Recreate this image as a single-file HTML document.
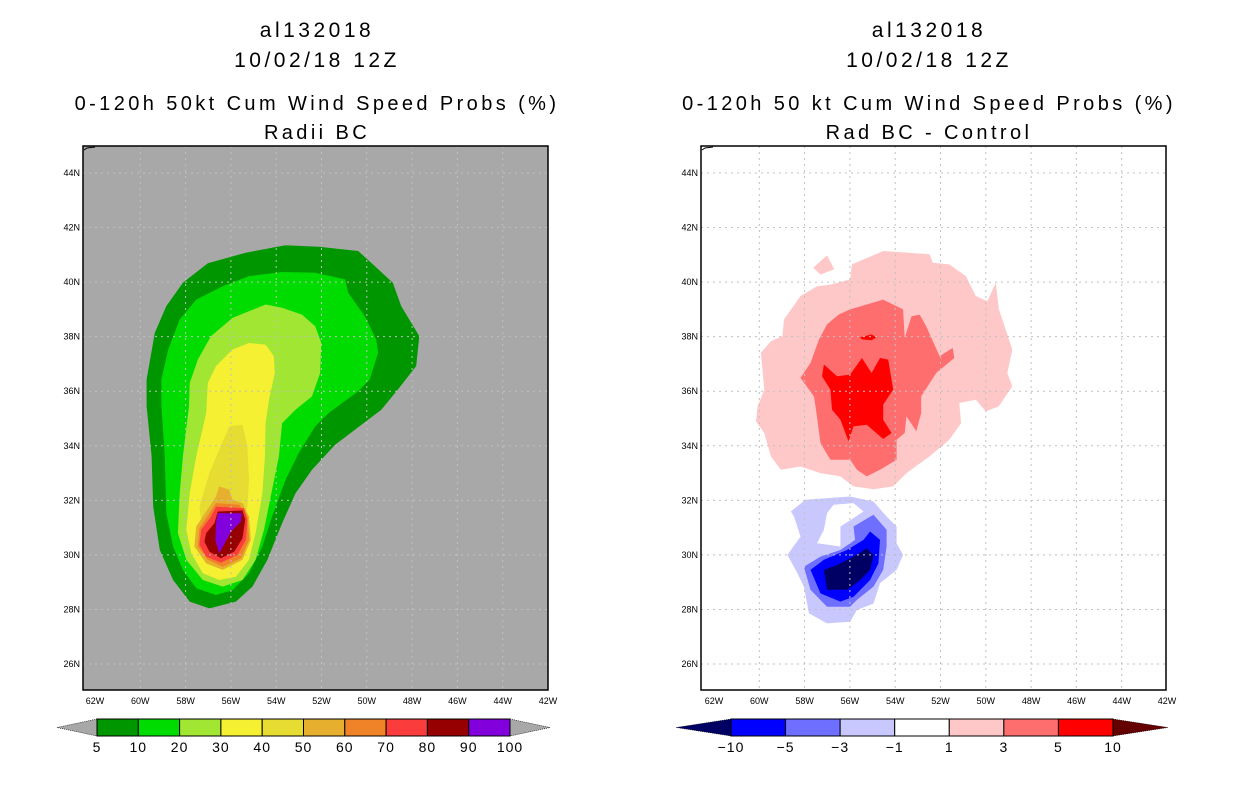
<!DOCTYPE html>
<html><head><meta charset="utf-8"><style>
html,body{margin:0;padding:0;background:#fff;}
svg{display:block;font-family:"Liberation Sans",sans-serif;}
</style></head><body>
<svg id="c" width="1236" height="800" xmlns="http://www.w3.org/2000/svg"></svg>
<script>
// ---- data ----
const lonTicks=[-62,-60,-58,-56,-54,-52,-50,-48,-46,-44,-42];
const latTicks=[26,28,30,32,34,36,38,40,42,44];
const probLevels=[5,10,20,30,40,50,60,70,80,90,100];
const probColors=['#009600','#00dc00','#a0e632','#f5f032','#e6dc32','#e6af2d','#f08228','#fa3c3c','#960000','#8200dc'];
const diffLevels=[-10,-5,-3,-1,1,3,5,10];
const diffColors=['#0000ff','#6e6eff','#c8c8ff','#ffffff','#ffc8c8','#ff6e6e','#ff0000'];
// contour polygons (lon, lat) for left panel, index = probColors index
const prob5=[[-53.59,41.35],[-52.13,41.30],[-50.38,41.14],[-49.65,40.59],[-48.85,39.98],[-48.48,39.12],[-47.68,38.02],[-47.82,36.92],[-48.63,36.06],[-49.36,35.32],[-51.40,34.04],[-52.42,33.12],[-53.15,32.26],[-53.74,31.16],[-54.39,29.82],[-55.05,28.84],[-55.78,28.29],[-56.95,28.04],[-57.82,28.29],[-58.55,29.08],[-59.14,30.18],[-59.43,31.77],[-59.50,33.61],[-59.72,35.45],[-59.72,36.43],[-59.36,38.14],[-58.85,39.12],[-58.12,39.98],[-57.02,40.69],[-55.34,41.08]];
const prob10=[[-55.20,40.22],[-53.74,40.37],[-52.28,40.34],[-50.96,40.10],[-50.82,39.61],[-50.09,38.75],[-49.58,37.89],[-49.50,37.41],[-49.87,36.43],[-50.38,36.00],[-51.69,35.20],[-52.28,34.71],[-53.01,33.73],[-53.59,32.75],[-54.18,31.41],[-54.61,30.31],[-55.20,29.33],[-55.93,28.71],[-56.66,28.53],[-57.53,28.78],[-58.12,29.45],[-58.55,30.31],[-58.85,31.53],[-58.92,33.61],[-59.07,35.45],[-59.07,36.43],[-58.77,37.53],[-58.26,38.63],[-57.53,39.36],[-56.36,39.85]];
const prob20=[[-54.47,39.18],[-53.74,39.06],[-52.86,38.81],[-52.28,38.38],[-52.01,37.77],[-52.06,36.67],[-52.42,35.81],[-53.15,35.32],[-53.74,34.83],[-53.88,33.61],[-54.18,32.39],[-54.54,30.92],[-54.91,29.82],[-55.49,29.08],[-56.36,28.84],[-57.24,29.08],[-57.97,29.82],[-58.34,30.80],[-58.26,32.26],[-58.12,33.61],[-57.85,35.45],[-57.82,36.30],[-57.46,37.16],[-56.88,38.02],[-55.93,38.69]];
const prob30=[[-55.20,37.77],[-54.47,37.71],[-54.10,37.28],[-54.06,36.67],[-54.32,35.69],[-54.47,34.83],[-54.50,33.61],[-54.61,32.26],[-54.91,30.80],[-55.20,29.82],[-55.78,29.20],[-56.51,29.08],[-57.24,29.33],[-57.75,30.06],[-57.97,30.92],[-57.82,32.26],[-57.53,33.61],[-57.09,35.20],[-57.02,36.30],[-56.66,36.92],[-55.93,37.53]];
const prob40=[[-56.07,34.71],[-55.49,34.77],[-55.27,33.98],[-55.20,32.75],[-55.27,31.77],[-55.49,30.92],[-56.07,30.31],[-56.66,30.43],[-57.24,30.80],[-57.39,31.77],[-56.95,33.00],[-56.51,33.86]];
const prob50=[[-56.51,32.51],[-56.07,32.39],[-55.93,32.02],[-55.49,31.90],[-55.20,31.41],[-55.12,30.55],[-55.49,29.82],[-56.36,29.45],[-57.09,29.69],[-57.61,30.31],[-57.53,31.04],[-56.95,31.77],[-56.66,32.14]];
const prob60=[[-56.66,31.90],[-55.64,31.84],[-55.27,31.41],[-55.20,30.55],[-55.56,29.88],[-56.36,29.57],[-57.02,29.82],[-57.46,30.31],[-57.39,30.98],[-56.95,31.53]];
const prob70=[[-56.66,31.77],[-55.42,31.71],[-55.27,31.29],[-55.34,30.55],[-55.71,30.00],[-56.44,29.72],[-57.09,29.94],[-57.39,30.37],[-57.31,30.92],[-56.88,31.41]];
const prob80=[[-56.58,31.59],[-55.49,31.63],[-55.37,31.29],[-55.49,30.61],[-55.85,30.12],[-56.44,29.88],[-56.95,30.12],[-57.17,30.49],[-57.09,30.80],[-56.73,31.16]];
const prob90=[[-56.58,31.53],[-55.52,31.53],[-55.56,31.22],[-55.99,30.86],[-56.51,30.06],[-56.69,30.55],[-56.66,31.16]];
// right panel polygons
const diffPos1=[[-55.91,40.65],[-54.53,41.14],[-52.48,41.02],[-52.34,40.71],[-51.61,40.65],[-50.88,40.22],[-50.44,39.49],[-49.93,39.30],[-49.56,39.98],[-49.42,39.00],[-48.83,37.53],[-49.05,36.67],[-48.83,36.18],[-49.42,35.45],[-50.00,35.26],[-50.44,35.69],[-51.17,35.57],[-51.09,34.83],[-51.61,34.22],[-52.48,33.61],[-53.50,33.00],[-54.09,32.51],[-54.96,32.41],[-55.84,32.51],[-56.42,32.88],[-57.30,33.00],[-58.18,33.24],[-59.05,33.12],[-59.49,33.61],[-59.78,34.47],[-60.15,34.90],[-60.07,35.45],[-59.78,36.06],[-59.93,37.41],[-59.49,37.83],[-58.98,38.02],[-58.91,38.63],[-58.18,39.49],[-57.45,39.85],[-56.86,39.91],[-55.99,40.10]];
const diffPos1b=[[-57.62,40.53],[-57.01,40.98],[-56.69,40.47],[-57.30,40.28]];
const diffPos3=[[-55.99,39.00],[-54.53,39.36],[-53.65,39.00],[-53.58,37.96],[-53.28,38.75],[-52.92,38.81],[-52.63,38.38],[-52.04,37.28],[-51.46,37.59],[-51.39,37.22],[-52.19,36.67],[-52.85,35.81],[-52.85,35.20],[-53.07,34.53],[-53.50,35.08],[-53.58,34.47],[-53.94,34.22],[-53.94,33.49],[-54.67,33.12],[-55.26,32.88],[-55.69,33.12],[-55.99,33.49],[-56.86,33.49],[-57.30,34.10],[-57.52,35.45],[-57.59,35.81],[-58.18,36.49],[-57.74,37.04],[-57.37,37.89],[-57.01,38.45],[-56.50,38.81]];
const diffPos5=[[-57.15,36.98],[-56.57,36.55],[-55.99,36.61],[-55.47,37.22],[-55.04,36.67],[-54.67,37.22],[-54.31,37.16],[-54.09,36.06],[-54.53,35.51],[-54.53,34.96],[-54.16,34.47],[-54.53,34.25],[-55.26,34.77],[-55.84,34.71],[-56.06,34.16],[-56.42,34.96],[-56.79,35.32],[-56.86,36.06],[-57.23,36.55]];
const diffPos5b=[[-55.55,37.98],[-55.04,38.08],[-54.82,37.98],[-55.04,37.87],[-55.47,37.90]];
const diffNeg1=[[-57.96,32.02],[-55.99,32.14],[-54.96,31.96],[-54.38,31.41],[-53.94,31.04],[-53.94,30.43],[-53.65,30.00],[-53.94,29.45],[-54.67,28.96],[-54.96,28.22],[-55.69,27.98],[-55.99,27.55],[-57.01,27.49],[-57.81,27.86],[-58.03,28.84],[-58.32,29.33],[-58.76,30.00],[-58.18,30.67],[-58.47,31.41],[-58.61,31.59]];
const diffHole=[[-56.72,31.84],[-55.84,31.90],[-55.40,31.59],[-55.84,31.35],[-56.42,31.04],[-56.42,30.31],[-57.45,30.43],[-57.15,30.92],[-57.01,31.53]];
const diffNeg3=[[-55.84,31.04],[-54.96,31.47],[-54.38,30.92],[-54.38,30.31],[-54.53,29.45],[-54.96,28.84],[-55.69,28.35],[-55.99,28.10],[-57.01,28.10],[-57.74,28.72],[-58.03,29.57],[-57.30,29.94],[-56.42,30.18],[-55.77,30.55]];
const diffNeg5=[[-55.11,30.86],[-54.67,30.55],[-54.74,29.69],[-55.11,29.08],[-55.84,28.47],[-56.42,28.29],[-57.30,28.59],[-57.74,29.45],[-57.15,29.82],[-56.13,30.18],[-55.40,30.55]];
const diffNeg10=[[-55.26,30.24],[-54.96,30.00],[-55.11,29.45],[-55.55,29.08],[-56.13,28.72],[-57.01,28.72],[-57.15,29.45],[-56.57,29.63],[-55.84,29.94]];

// ---- drawing ----
const NS='http://www.w3.org/2000/svg';
const svg=document.getElementById('c');
function mk(tag,attrs,parent){const e=document.createElementNS(NS,tag);for(const k in attrs)e.setAttribute(k,attrs[k]);(parent||svg).appendChild(e);return e;}
const LEFT={x0:83,y0:146,x1:548,y1:690,lon0:95};
const RIGHT={x0:701,y0:146,x1:1166,y1:690,lon0:714};
const DX=22.65, DY=27.28;
function xs(p,lon){return p.lon0+(lon+62)*DX;}
function ys(p,lat){return 173+(44-lat)*DY;}
function poly(p,pts,fill,name,g){const d=pts.map((q,i)=>(i?'L':'M')+xs(p,q[0]).toFixed(1)+','+ys(p,q[1]).toFixed(1)).join('')+'Z';
  const e=mk('path',{d:d,fill:fill},g);
  
  
  return e;}
function text(x,y,s,size,anchor,name,g,ls){const t=mk('text',{x:x,y:y,'font-size':size,'text-anchor':anchor||'middle',fill:'#000'},g);t.textContent=s;
  if(ls)t.setAttribute('letter-spacing',ls);
  
  
  return t;}
function panel(p,bg,polys,title,sub,cx,name){
  const g=mk('g',{});
  
  
  const r=mk('rect',{x:p.x0,y:p.y0,width:p.x1-p.x0,height:p.y1-p.y0,fill:bg},g);
  
  
  polys.forEach(a=>poly(p,a[0],a[1],a[2],g));
  lonTicks.forEach(l=>{const x=xs(p,l);
    if(l>-62&&l<-42){const gl=mk('line',{x1:x,x2:x,y1:p.y0,y2:p.y1,stroke:'#c0c0c0','stroke-dasharray':'2,4','stroke-width':1},g);
      
      }
    text(x,p.y1+14,Math.abs(l)+'W',9,'middle','lon-tick-label',g);});
  latTicks.forEach(l=>{const y=ys(p,l);
    const gl=mk('line',{x1:p.x0,x2:p.x1,y1:y,y2:y,stroke:'#c0c0c0','stroke-dasharray':'2,4','stroke-width':1},g);
    
    
    text(p.x0-3,y+3,l+'N',9,'end','lat-tick-label',g);});
  const b=mk('rect',{x:p.x0,y:p.y0,width:p.x1-p.x0,height:p.y1-p.y0,fill:'none',stroke:'#000','stroke-width':1.5},g);
  
  
  const co=mk('path',{d:`M${p.x0+1},${p.y0+4} L${p.x0+4},${p.y0+2} L${p.x0+12},${p.y0+1}`,stroke:'#000',fill:'none','stroke-width':1},g);
  
  
  text(cx+2,37,'al132018',21,'middle','title-storm-id',g,3.5);
  text(cx+2,67,'10/02/18 12Z',21,'middle','title-date',g,3.5);
  text(cx+2,110,title,20,'middle','title-main',g,3.4);
  text(cx+2,139,sub,20,'middle','title-sub',g,3.4);
}
panel(LEFT,'#a8a8a8',[[prob5,probColors[0],'contour-5'],[prob10,probColors[1],'contour-10'],[prob20,probColors[2],'contour-20'],[prob30,probColors[3],'contour-30'],[prob40,probColors[4],'contour-40'],[prob50,probColors[5],'contour-50'],[prob60,probColors[6],'contour-60'],[prob70,probColors[7],'contour-70'],[prob80,probColors[8],'contour-80'],[prob90,probColors[9],'contour-90']],
  '0-120h 50kt Cum Wind Speed Probs (%)','Radii BC',315,'left-map-panel');
panel(RIGHT,'#ffffff',[[diffPos1,diffColors[4],'diff-pos-1'],[diffPos1b,diffColors[4],'diff-pos-1-island'],[diffPos3,diffColors[5],'diff-pos-3'],[diffPos5,diffColors[6],'diff-pos-5'],[diffPos5b,diffColors[6],'diff-pos-5-spot'],[diffNeg1,diffColors[2],'diff-neg-1'],[diffHole,'#ffffff','diff-neg-hole'],[diffNeg3,diffColors[1],'diff-neg-3'],[diffNeg5,diffColors[0],'diff-neg-5'],[diffNeg10,'#000064','diff-neg-10']],
  '0-120h 50 kt Cum Wind Speed Probs (%)','Rad BC - Control',927,'right-map-panel');

// colorbars
function colorbar(x0,w,levels,colors,lcol,rcol,tri,name){
  const g=mk('g',{});
  
  
  const y0=719,y1=736,ym=727.5;
  const lt=mk('path',{d:`M${x0},${y0}L${x0-tri},${ym}L${x0},${y1}Z`,fill:lcol,stroke:'#000','stroke-width':0.6,'stroke-dasharray':'1,1'},g);
  
  
  const xe=x0+w*colors.length;
  const rt=mk('path',{d:`M${xe},${y0}L${xe+tri},${ym}L${xe},${y1}Z`,fill:rcol,stroke:'#000','stroke-width':0.6,'stroke-dasharray':'1,1'},g);
  
  
  colors.forEach((c,i)=>{const r=mk('rect',{x:x0+i*w,y:y0,width:w,height:y1-y0,fill:c,stroke:'#000','stroke-width':1},g);
    
    });
  levels.forEach((l,i)=>text(x0+i*w,752,String(l).replace('-','\u2212'),14,'middle','colorbar-label',g,1));
}
colorbar(97,41.3,probLevels,probColors,'#a8a8a8','#a8a8a8',40,'left-colorbar');
colorbar(731,54.57,diffLevels,diffColors,'#000064','#640000',55,'right-colorbar');
</script>
</body></html>
